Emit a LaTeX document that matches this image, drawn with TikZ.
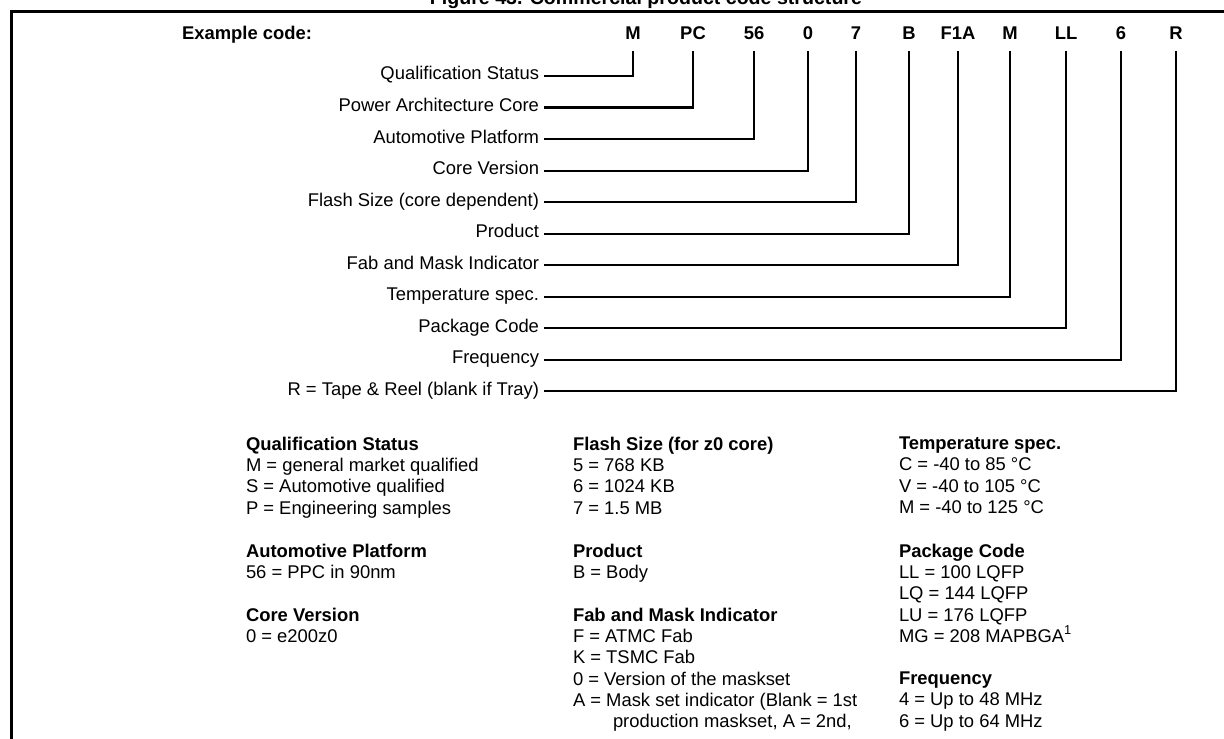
\documentclass[tikz,border=0pt]{standalone}
\usepackage{fontspec}
\setmainfont{Liberation Sans}
\AtBeginDocument{\fontsize{9.2}{10.65}\selectfont}

\begin{document}
\begin{tikzpicture}[x=0.5pt,y=-0.5pt,line width=1pt,
  code/.style={font=\bfseries,anchor=base,inner sep=0pt,outer ysep=5.5pt},
  field/.style={anchor=east,inner ysep=0pt,inner xsep=2pt,text height=6.5pt,text depth=2.5pt},
  block/.style={anchor=north west,align=left,inner sep=0pt}]
\useasboundingbox (0,0) rectangle (1224,738);
\node[font=\fontsize{9.8}{11}\selectfont\bfseries,anchor=base] (title) at (646,5) {Figure 43. Commercial product code structure};
\draw[line width=1.2pt] (1240,11.5) -- (11.5,11.5) -- (11.5,760);
\node[font=\bfseries,anchor=base west] (example) at (175,40) {Example code:};
\node[code] (c1) at (633,40) {M};
\node[code] (c2) at (693,40) {PC};
\node[code] (c3) at (754,40) {56};
\node[code] (c4) at (808,40) {0};
\node[code] (c5) at (856,40) {7};
\node[code] (c6) at (909,40) {B};
\node[code] (c7) at (958,40) {F1A};
\node[code] (c8) at (1010,40) {M};
\node[code] (c9) at (1066,40) {LL};
\node[code] (c10) at (1121,40) {6};
\node[code] (c11) at (1176,40) {R};
\node[field] (l1) at (544,76) {Qualification Status};
\node[field] (l2) at (544,107.5) {Power Architecture Core};
\node[field] (l3) at (544,139) {Automotive Platform};
\node[field] (l4) at (544,170.5) {Core Version};
\node[field] (l5) at (544,202) {Flash Size (core dependent)};
\node[field] (l6) at (544,233.5) {Product};
\node[field] (l7) at (544,265) {Fab and Mask Indicator};
\node[field] (l8) at (544,296.5) {Temperature spec.};
\node[field] (l9) at (544,328) {Package Code};
\node[field] (l10) at (544,359.5) {Frequency};
\node[field] (l11) at (544,391) {R = Tape \& Reel (blank if Tray)};
\foreach \i in {1,...,11}
  \draw (c\i.south) |- (l\i.east);
\node[block] (qual) at (245,436) {\textbf{Qualification Status}\\M = general market qualified\\S = Automotive qualified\\P = Engineering samples};
\node[block] (plat) at (245,543) {\textbf{Automotive Platform}\\56 = PPC in 90nm};
\node[block] (corever) at (245,607) {\textbf{Core Version}\\0 = e200z0};
\node[block] (flash) at (572,436) {\textbf{Flash Size (for z0 core)}\\5 = 768 KB\\6 = 1024 KB\\7 = 1.5 MB};
\node[block] (prod) at (572,543) {\textbf{Product}\\B = Body};
\node[block] (fab) at (572,607) {\textbf{Fab and Mask Indicator}\\F = ATMC Fab\\K = TSMC Fab\\0 = Version of the maskset\\A = Mask set indicator (Blank = 1st\\\hspace*{20pt}production maskset, A = 2nd,};
\node[block] (temp) at (898,436) {\textbf{Temperature spec.}\\C = -40 to 85 °C\\V = -40 to 105 °C\\M = -40 to 125 °C};
\node[block] (pkg) at (898,543) {\textbf{Package Code}\\LL = 100 LQFP\\LQ = 144 LQFP\\LU = 176 LQFP\\MG = 208 MAPBGA\textsuperscript{1}};
\node[block] (freq) at (898,671) {\textbf{Frequency}\\4 = Up to 48 MHz\\6 = Up to 64 MHz};
\end{tikzpicture}
\end{document}
